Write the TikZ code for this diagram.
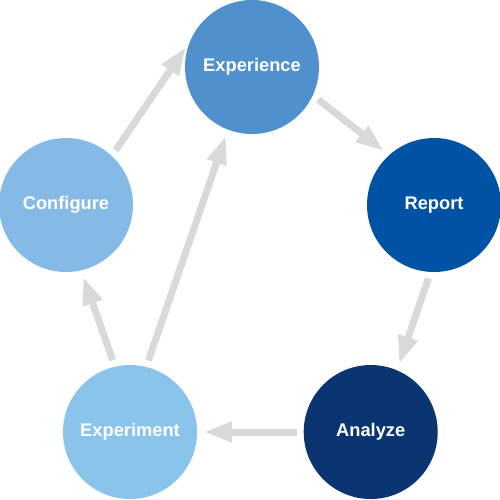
\documentclass[tikz,border=0pt]{standalone}
\usepackage{fontspec}
\setmainfont{Liberation Sans}
\usetikzlibrary{positioning, arrows.meta}

\definecolor{expcol}{RGB}{80,144,205}
\definecolor{repcol}{RGB}{0,82,165}
\definecolor{anacol}{RGB}{10,53,113}
\definecolor{exptcol}{RGB}{138,196,235}
\definecolor{confcol}{RGB}{134,186,230}
\definecolor{arrowgray}{RGB}{217,217,217}

\begin{document}
\begin{tikzpicture}[
  stage/.style={circle,minimum size=2.68cm,inner sep=0pt,text=white,
    font=\fontsize{10.4}{12}\selectfont\bfseries},
  flow/.style={draw=arrowgray,line width=0.14cm,
    -{Triangle[length=0.56cm,width=0.38cm]},shorten <=0.13cm,shorten >=0.13cm}
]
\useasboundingbox (0,0) rectangle (10,-9.98);

\node[stage,fill=expcol] (exp) at (5.04,-1.34) {Experience};
\node[stage,fill=repcol] (rep) at (8.68,-4.10) {Report};
\node[stage,fill=exptcol] (expt) at (2.60,-8.64) {Experiment};
\node[stage,fill=anacol,right=2.12cm of expt] (ana) {Analyze};
\node[stage,fill=confcol] (conf) at (1.32,-4.10) {Configure};

\path (conf.47) edge[flow] (exp.158)
(exp.335) edge[flow] (rep.132)
(rep.267) edge[flow] (ana.67)
(ana.180) edge[flow] (expt.0)
(expt.103) edge[flow] (conf.283)
(expt.76) edge[flow] (exp.249);

\end{tikzpicture}
\end{document}
